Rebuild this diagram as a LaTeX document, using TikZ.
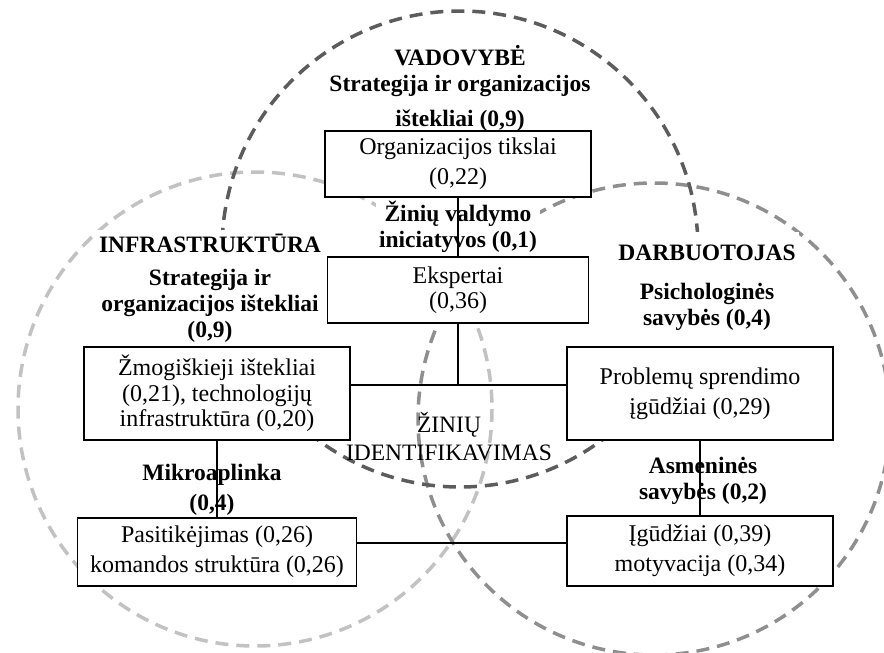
\documentclass[tikz,border=0pt]{standalone}
\usepackage{fontspec}
\setmainfont{Liberation Serif}
\usetikzlibrary{positioning}

\definecolor{ringdark}{gray}{0.36}
\definecolor{ringmid}{gray}{0.56}
\definecolor{ringlight}{gray}{0.76}

\tikzset{
  ring/.style={line width=3.5pt, dash pattern=on 13pt off 8pt},
  box/.style={draw, fill=white, line width=1.1pt, align=center, inner sep=0pt},
  tight/.style={font=\fontsize{24}{25.5}\selectfont},
  lbl/.style={font=\fontsize{23.5}{26}\selectfont\bfseries, align=center},
}

\begin{document}
\begin{tikzpicture}[x=1pt, y=-1pt, font=\fontsize{24}{30}\selectfont, line width=1.1pt]
    \useasboundingbox (0,0) rectangle (884,653);
    \clip (0,0) rectangle (884,653);
    \draw[ring, ringlight] (255,409) circle[radius=237];
    \draw[ring, ringmid] (654,419) circle[radius=236];
    \draw[ring, ringdark] (460,249) circle[radius=238];

    \node[lbl] (vadovybe) at (460,88) {VADOVYBĖ\\Strategija ir organizacijos\\[9pt]ištekliai (0,9)};
    \node[box, minimum width=266pt, minimum height=66pt] (tikslai) at (458,164) {Organizacijos tikslai\\(0,22)};
    \node[lbl, fill=white, minimum height=56pt] (iniciatyvos) at (458,227) {Žinių valdymo\\iniciatyvos (0,1)};
    \node[box, tight, minimum width=261pt, minimum height=66pt] (ekspertai) at (458,290) {Ekspertai\\(0,36)};
    \node[lbl, fill=white, minimum height=115pt] (infrastruktura) at (210,288) {INFRASTRUKTŪRA\\[7pt]Strategija ir\\organizacijos ištekliai\\(0,9)};
    \node[lbl, fill=white, minimum height=112pt] (darbuotojas) at (707,288) {DARBUOTOJAS\\[13pt]Psichologinės\\savybės (0,4)};
    \node[box, tight, minimum width=266pt, minimum height=93pt] (istekliai) at (217,393.5) {Žmogiškieji ištekliai\\(0,21), technologijų\\infrastruktūra (0,20)};
    \node[box, minimum width=266pt, minimum height=93pt] (sprendimas) at (700,393.5) {Problemų sprendimo\\įgūdžiai (0,29)};
    \node[align=center, font=\fontsize{23.5}{28}\selectfont] (identifikavimas) at (449,437) {ŽINIŲ\\IDENTIFIKAVIMAS};
    \node[lbl] (mikroaplinka) at (212,490) {Mikroaplinka\\[4pt](0,4)};
    \node[lbl] (asmenines) at (703,481) {Asmeninės\\savybės (0,2)};
    \node[box, minimum width=279pt, minimum height=68pt] (pasitikejimas) at (217,552) {Pasitikėjimas (0,26)\\komandos struktūra (0,26)};
    \node[box, minimum width=266pt, minimum height=70pt] (gebejimai) at (700,551) {Įgūdžiai (0,39)\\motyvacija (0,34)};
    \coordinate (virsus) at (458,385);
    \coordinate (apacia) at (458,543);

    \draw (tikslai) -- (ekspertai);
    \draw (ekspertai) -- (virsus);
    \draw (istekliai.east |- virsus) -- (sprendimas.west |- virsus);
    \draw (istekliai) -- (pasitikejimas);
    \draw (sprendimas) -- (gebejimai);
    \draw (pasitikejimas.east |- apacia) -- (gebejimai.west |- apacia);
\end{tikzpicture}
\end{document}
